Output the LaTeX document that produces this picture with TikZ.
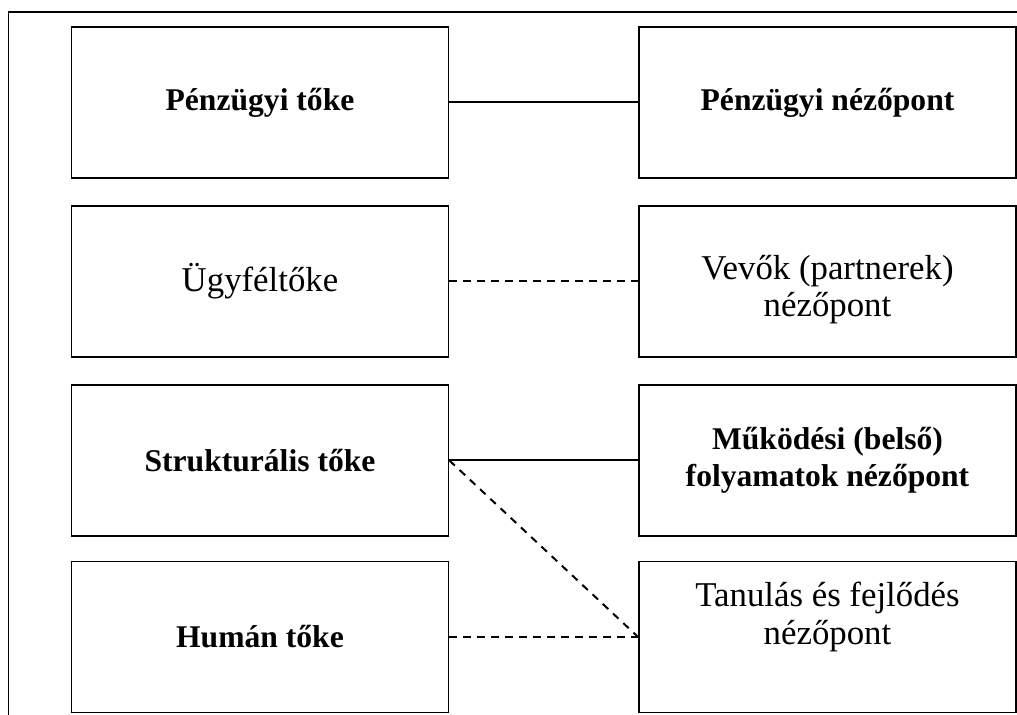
\documentclass[tikz,border=0pt]{standalone}
\usepackage{fontspec}
\setmainfont{Liberation Serif}
\begin{document}
\begin{tikzpicture}[x=0.5pt,y=-0.5pt,
  box/.style={draw, line width=0.9pt, minimum width=188.5pt, minimum height=75.5pt,
    align=center, inner sep=2pt},
  strong/.style={box, font=\fontsize{15.8}{18.5}\selectfont\bfseries},
  plain/.style={box, font=\fontsize{17.4}{19.5}\selectfont},
  plainlbl/.style={align=center, inner sep=0pt, font=\fontsize{17.4}{18.7}\selectfont},
  link/.style={line width=1pt},
  dlink/.style={line width=1pt, dash pattern=on 3.75pt off 3.25pt}]
\useasboundingbox (0,0) rectangle (1017,715);
% outer frame (open at the right and bottom)
\draw[line width=0.9pt] (8.5,715) -- (8.5,12) -- (1017,12);

% capital boxes (left column)
\node[strong] (pt) at (260,102.5) {Pénzügyi tőke};
\node[plain]  (ut) at (260,281.5) {Ügyféltőke};
\node[strong] (st) at (260,460.5) {Strukturális tőke};
\node[strong] (ht) at (260,637) {Humán tőke};

% perspective boxes (right column)
\node[strong] (pn) at (827.5,102.5) {Pénzügyi nézőpont};
\node[box, label={[plainlbl, yshift=-4pt]center:{Vevők (partnerek)\\nézőpont}}]
  (vn) at (827.5,281.5) {};
\node[strong] (mn) at (827.5,460.5) {Működési (belső)\\folyamatok nézőpont};
\node[box, label={[plainlbl, yshift=10pt]center:{Tanulás és fejlődés\\nézőpont}}]
  (tn) at (827.5,637) {};

% links
\draw[link] (pt.east) -- (pn.west);
\draw[dlink] (ut.east) -- (vn.west);
\draw[link] (st.east) -- (mn.west);
\draw[dlink] (st.east) -- (tn.west);
\draw[dlink] (ht.east) -- (tn.west);
\end{tikzpicture}
\end{document}
